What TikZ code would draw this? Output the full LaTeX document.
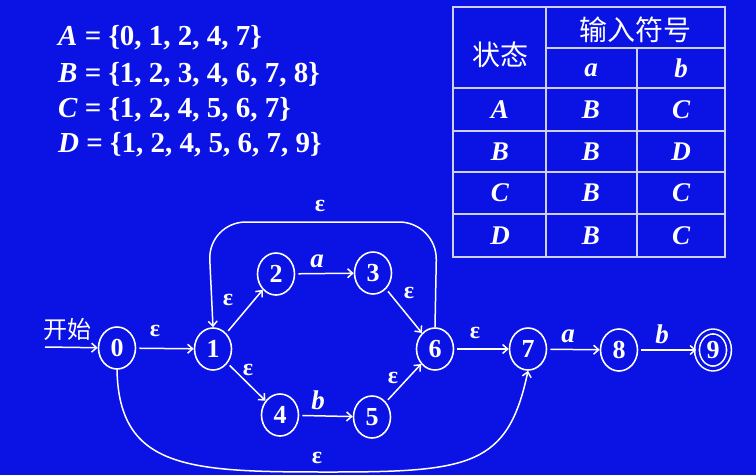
\documentclass[tikz,border=0pt]{standalone}
\usepackage{fontspec}
\setmainfont{Liberation Serif}
\newfontfamily\cjk{Noto Sans CJK SC}
\usetikzlibrary{shapes.geometric, arrows.meta, positioning}
\definecolor{bgblue}{RGB}{10,18,228}
\definecolor{gridgray}{RGB}{205,208,240}
\tikzset{
    st/.style={
        ellipse,
        draw=white,
        line width=1.6pt,
        minimum width=37pt,
        minimum height=42pt,
        inner sep=0pt,
        text=white,
        font=\fontsize{26}{26}\selectfont\bfseries
    },
    accept/.style={
        st,
        double=bgblue,
        double distance=3.2pt,
        minimum width=32pt,
        minimum height=37pt
    },
    link/.style={
        draw=white,
        line width=1.5pt,
        shorten <=3pt,
        -{Straight Barb[length=5pt,width=9pt]}
    },
    elabel/.style={
        text=white,
        inner sep=0pt,
        font=\fontsize{24}{24}\selectfont\bfseries
    },
    sym/.style={
        text=white,
        inner sep=0pt,
        font=\fontsize{27}{27}\selectfont\bfseries\itshape
    },
    settext/.style={
        text=white,
        inner sep=0pt,
        anchor=base west,
        font=\fontsize{29}{29}\selectfont\bfseries
    },
    hanzi/.style={
        text=white,
        inner sep=0pt,
        font=\fontsize{28}{28}\selectfont\cjk
    },
    tabline/.style={
        draw=gridgray,
        line width=1.3pt
    }
}

\begin{document}
\begin{tikzpicture}[x=1pt, y=-1pt]

\fill[bgblue] (0,0) rectangle (756,475);
\useasboundingbox (0,0) rectangle (756,475);

% Subsets
\node[settext] (setA) at (58,45) {{\itshape A} = \{0, 1, 2, 4, 7\}};
\node[settext] (setB) at (58,82) {{\itshape B} = \{1, 2, 3, 4, 6, 7, 8\}};
\node[settext] (setC) at (58,117) {{\itshape C} = \{1, 2, 4, 5, 6, 7\}};
\node[settext] (setD) at (58,152) {{\itshape D} = \{1, 2, 4, 5, 6, 7, 9\}};

% Transition table
\draw[tabline] (453,7) rectangle (725,257);
\draw[tabline] (546,7) -- (546,257);
\draw[tabline] (637,48) -- (637,257);
\draw[tabline] (546,48) -- (725,48);
\draw[tabline] (453,88) -- (725,88);
\draw[tabline] (453,131) -- (725,131);
\draw[tabline] (453,172) -- (725,172);
\draw[tabline] (453,214) -- (725,214);

\node[hanzi] (hstate) at (500,55) {状态};
\node[hanzi] (hinput) at (635,30) {输入符号};
\node[sym] (ha) at (591,70) {a};
\node[sym] (hb) at (681,68) {b};

\node[sym] (rA) at (500,110) {A};
\node[sym] (rAa) at (591,110) {B};
\node[sym] (rAb) at (681,110) {C};
\node[sym] (rB) at (500,152) {B};
\node[sym] (rBa) at (591,152) {B};
\node[sym] (rBb) at (681,152) {D};
\node[sym] (rC) at (500,193) {C};
\node[sym] (rCa) at (591,193) {B};
\node[sym] (rCb) at (681,193) {C};
\node[sym] (rD) at (500,236) {D};
\node[sym] (rDa) at (591,236) {B};
\node[sym] (rDb) at (681,236) {C};

% NFA states
\node[st] (n0) at (117,348) {0};
\node[st] (n1) at (213,349) {1};
\node[st] (n2) at (276,274) {2};
\node[st] (n3) at (373,273) {3};
\node[st] (n4) at (280,415) {4};
\node[st] (n5) at (372,417) {5};
\node[st] (n6) at (435,349) {6};
\node[st] (n7) at (528,349) {7};
\node[st] (n8) at (619,350) {8};
\node[accept] (n9) at (713,350) {9};

% Start
\coordinate (start) at (45,347);
\node[hanzi, font=\fontsize{24}{24}\selectfont\cjk] (kaishi) at (67,329) {开始};
\draw[link, shorten <=0pt] (start) -- (n0);

% Transitions
\draw[link] (n0) -- (n1);
\draw[link] (n1) -- (n2);
\draw[link] (n2) -- (n3);
\draw[link] (n3) -- (n6);
\draw[link] (n1) -- (n4);
\draw[link] (n4) -- (n5);
\draw[link] (n5) -- (n6);
\draw[link] (n6) -- (n7);
\draw[link] (n7) -- (n8);
\draw[link] (n8) -- (n9);

\coordinate (topR) at (437,222);
\coordinate (topL) at (208,222);
\draw[link, shorten <=0pt, rounded corners=38pt] (n6.north) -- (topR) -- (topL) -- (n1.north);

\coordinate (bot) at (330,472);
\draw[link, shorten <=0pt] (n0.south) .. controls +(2,100) and +(-140,0) .. (bot)
    .. controls +(140,0) and +(-20,95) .. (n7.south);

% Labels
\node[elabel] (l01) at (155,331) {ε};
\node[elabel] (l12) at (228,300) {ε};
\node[sym] (l23) at (317,261) {a};
\node[elabel] (l36) at (409,293) {ε};
\node[elabel] (l14) at (248,370) {ε};
\node[sym] (l45) at (318,400) {b};
\node[elabel] (l56) at (393,378) {ε};
\node[elabel] (l61) at (320,206) {ε};
\node[elabel] (l07) at (317,458) {ε};
\node[elabel] (l67) at (475,333) {ε};
\node[sym] (l78) at (568,336) {a};
\node[sym] (l89) at (662,334) {b};

\end{tikzpicture}
\end{document}
